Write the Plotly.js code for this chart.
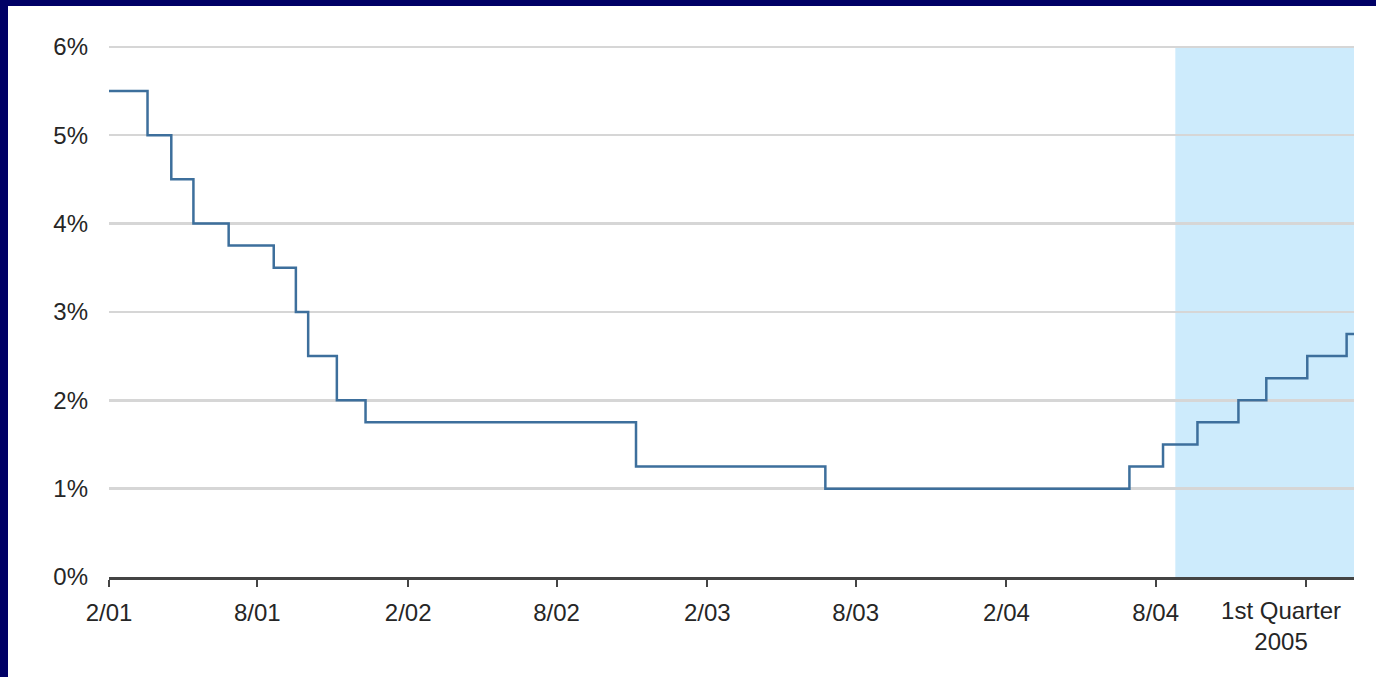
<!DOCTYPE html>
<html>
<head>
<meta charset="utf-8">
<script src="https://cdn.plot.ly/plotly-3.0.1.min.js"></script>
<style>
  html, body { margin: 0; padding: 0; background: #000066; width: 1376px; height: 677px; overflow: hidden; }
  #chart { position: absolute; left: 8px; top: 6px; width: 1368px; height: 671px; background: #ffffff; }
</style>
</head>
<body>
<div id="chart"></div>
<script>
// Federal funds target rate changes (effective date, percent)
const changeDates = [
  '2001-02-01', '2001-03-20', '2001-04-18', '2001-05-15', '2001-06-27',
  '2001-08-21', '2001-09-17', '2001-10-02', '2001-11-06', '2001-12-11',
  '2002-11-06', '2003-06-25', '2004-06-30', '2004-08-10', '2004-09-21',
  '2004-11-10', '2004-12-14', '2005-02-02', '2005-03-22', '2005-03-31'
];
const targetRate = [
  5.50, 5.00, 4.50, 4.00, 3.75,
  3.50, 3.00, 2.50, 2.00, 1.75,
  1.25, 1.00, 1.25, 1.50, 1.75,
  2.00, 2.25, 2.50, 2.75, 2.75
];

// Axis ticks
const tickDates = ['2001-02-01', '2001-08-01', '2002-02-01', '2002-08-01', '2003-02-01',
                   '2003-08-01', '2004-02-01', '2004-08-01', '2005-02-01'];
const tickLabels = ['2/01', '8/01', '2/02', '8/02', '2/03', '8/03', '2/04', '8/04', ''];
const quarterLabelDate = ['2005-01-01'];
const quarterLabel = ['1st Quarter<br>2005'];
const yTicks = [0, 1, 2, 3, 4, 5, 6];
const yLabels = ['0%', '1%', '2%', '3%', '4%', '5%', '6%'];

// Highlighted recent period
const shadeStart = '2004-08-25';
const xStart = '2001-02-01';
const xEnd = '2005-03-31';

const font = { family: 'Liberation Sans, Arial, sans-serif', size: 24, color: '#262626' };

const trace = {
  x: changeDates,
  y: targetRate,
  type: 'scatter',
  mode: 'lines',
  line: { shape: 'hv', color: '#3d6f9c', width: 2.5 },
  hoverinfo: 'x+y'
};

const layout = {
  width: 1368,
  height: 671,
  margin: { l: 101, r: 22, t: 39, b: 100 },
  paper_bgcolor: '#ffffff',
  plot_bgcolor: '#ffffff',
  showlegend: false,
  font: font,
  xaxis: {
    type: 'date',
    range: [xStart, xEnd],
    tickmode: 'array',
    tickvals: tickDates,
    ticktext: tickLabels,
    ticks: 'outside',
    ticklen: 7,
    tickwidth: 2,
    tickcolor: '#444444',
    showline: true,
    linecolor: '#444444',
    linewidth: 2.5,
    showgrid: false,
    zeroline: false,
    ticklabelstandoff: 6,
    tickfont: font
  },
  xaxis2: {
    type: 'date',
    overlaying: 'x',
    anchor: 'y',
    side: 'bottom',
    range: [xStart, xEnd],
    tickmode: 'array',
    tickvals: quarterLabelDate,
    ticktext: quarterLabel,
    ticks: '',
    showline: false,
    showgrid: false,
    zeroline: false,
    ticklabelstandoff: 17,
    tickfont: font
  },
  yaxis: {
    range: [0, 6.02],
    tickmode: 'array',
    tickvals: yTicks,
    ticktext: yLabels,
    showgrid: true,
    gridcolor: '#d6d6d6',
    gridwidth: 2.5,
    zeroline: false,
    showline: false,
    ticks: '',
    ticklabelstandoff: 20,
    tickfont: font
  },
  shapes: [{
    type: 'rect',
    xref: 'x',
    yref: 'paper',
    x0: shadeStart,
    x1: xEnd,
    y0: 0,
    y1: 6 / 6.02,
    fillcolor: '#cdebfc',
    line: { width: 0 },
    layer: 'below'
  }]
};

// Invisible trace so the overlay axis is rendered
const anchorTrace = {
  x: [xStart, xEnd],
  y: [null, null],
  xaxis: 'x2',
  yaxis: 'y',
  type: 'scatter',
  mode: 'lines',
  hoverinfo: 'skip',
  showlegend: false
};

Plotly.newPlot('chart', [trace, anchorTrace], layout, { displayModeBar: false, staticPlot: true });
</script>
</body>
</html>
